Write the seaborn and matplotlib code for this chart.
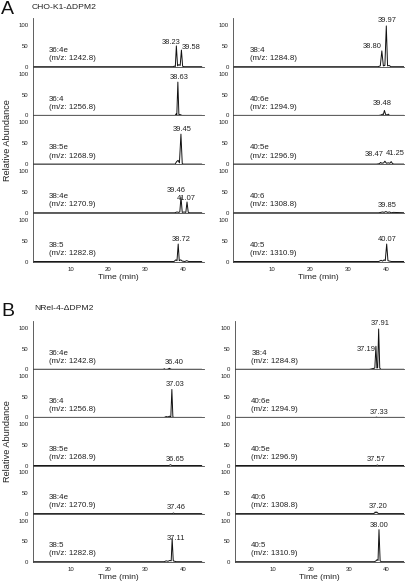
import matplotlib
matplotlib.use("Agg")
import matplotlib.pyplot as plt
from matplotlib.ticker import MultipleLocator, FixedLocator
import seaborn as sns
import pandas as pd

sns.set_style("white")
plt.rcParams['font.family'] = ['Liberation Sans', 'DejaVu Sans']

# ---------------- data ----------------
panel_titles = ["CHO-K1-\u0394DPM2", "NRel-4-\u0394DPM2"]
panel_letters = ["A", "B"]

names_left = ["36:4e", "36:4", "38:5e", "38:4e", "38:5"]
mz_left = ["1242.8", "1256.8", "1268.9", "1270.9", "1282.8"]
names_right = ["38:4", "40:6e", "40:5e", "40:6", "40:5"]
mz_right = ["1284.8", "1294.9", "1296.9", "1308.8", "1310.9"]

# Panel A, left column traces (time in min, relative abundance)
a_l1_t = [0, 37.4, 37.7, 37.95, 38.23, 38.55, 38.9, 39.25, 39.58, 39.9, 40.3, 45]
a_l1_y = [0, 0, 1.5, 0, 50, 2, 5, 3, 40, 1, 0, 0]
a_l2_t = [0, 37.9, 38.2, 38.35, 38.63, 38.9, 39.1, 39.4, 39.7, 45]
a_l2_y = [0, 0, 4, 1, 80, 2, 2, 1.5, 0, 0]
a_l3_t = [0, 37.9, 38.3, 38.7, 39.05, 39.45, 39.8, 40.1, 45]
a_l3_y = [0, 0, 6, 9, 3, 72, 1, 0, 0]
a_l4_t = [0, 37.8, 38.4, 38.8, 39.15, 39.46, 39.8, 40.3, 40.75, 41.07, 41.4, 41.8, 45]
a_l4_y = [0, 0, 2, 1, 2, 38, 1, 2, 1, 26, 1, 0, 0]
a_l5_t = [0, 37.6, 38.1, 38.4, 38.72, 39.0, 39.4, 39.8, 40.5, 41.0, 41.5, 45]
a_l5_y = [0, 0, 4, 2, 42, 2, 4, 1, 0, 2, 0, 0]

# Panel A, right column traces
a_r1_t = [0, 37.8, 38.4, 38.8, 39.2, 39.6, 39.97, 40.3, 40.7, 41.2, 45]
a_r1_y = [0, 0, 2, 38, 2, 3, 98, 2, 3, 0, 0]
a_r2_t = [0, 38.0, 38.6, 39.0, 39.2, 39.48, 39.8, 40.2, 40.5, 40.8, 45]
a_r2_y = [0, 0, 1, 3, 2, 12, 2, 1, 3, 0, 0]
a_r3_t = [0, 37.4, 38.2, 38.47, 38.8, 39.3, 39.6, 40.0, 40.5, 40.9, 41.25, 41.6, 42.0, 45]
a_r3_y = [0, 0, 1, 4, 2, 3, 7, 2, 3, 2, 6, 1, 0, 0]
a_r4_t = [0, 38.0, 38.5, 39.0, 39.4, 39.85, 40.3, 40.8, 41.3, 41.8, 45]
a_r4_y = [0, 0, 1, 2, 1, 3, 1, 2, 0, 1, 0]
a_r5_t = [0, 38.0, 38.6, 39.0, 39.4, 39.7, 40.07, 40.4, 40.8, 41.3, 45]
a_r5_y = [0, 0, 3, 1, 4, 2, 42, 2, 1, 0, 0]

# Panel B, left column traces
b_l1_t = [0, 34.8, 35.0, 35.2, 35.8, 36.1, 36.4, 36.7, 37.0, 45]
b_l1_y = [0, 0, 1.5, 0, 0, 1, 2.5, 0.5, 0, 0]
b_l2_t = [0, 35.0, 35.5, 36.0, 36.4, 36.75, 37.03, 37.3, 37.6, 45]
b_l2_y = [0, 0, 2, 1, 3, 1, 68, 1, 0, 0]
b_l3_t = [0, 36.3, 36.65, 37.0, 45]
b_l3_y = [0, 0, 2, 0, 0]
b_l4_t = [0, 37.2, 37.46, 37.7, 45]
b_l4_y = [0, 0, 1.5, 0, 0]
b_l5_t = [0, 35.0, 35.5, 36.0, 36.5, 36.85, 37.11, 37.4, 37.8, 38.2, 45]
b_l5_y = [0, 0, 2, 1, 3, 2, 56, 2, 1, 0, 0]

# Panel B, right column traces
b_r1_t = [0, 35.5, 36.0, 36.5, 36.9, 37.19, 37.45, 37.65, 37.91, 38.2, 38.5, 45]
b_r1_y = [0, 0, 1, 2, 3, 56, 3, 4, 98, 3, 0, 0]
b_r2_t = [0, 37.1, 37.33, 37.6, 45]
b_r2_y = [0, 0, 0.8, 0, 0]
b_r3_t = [0, 37.3, 37.57, 37.8, 45]
b_r3_y = [0, 0, 1.2, 0, 0]
b_r4_t = [0, 36.4, 36.8, 37.0, 37.2, 37.4, 37.7, 38.0, 45]
b_r4_y = [0, 0, 1, 4, 2, 4, 1, 0, 0]
b_r5_t = [0, 36.8, 37.2, 37.5, 37.75, 38.0, 38.3, 38.6, 45]
b_r5_y = [0, 0, 2, 5, 3, 78, 2, 0, 0]

# labelled retention times per trace
rt_a_left = [["38.23", "39.58"], ["38.63"], ["39.45"], ["39.46", "41.07"], ["38.72"]]
rt_a_right = [["38.80", "39.97"], ["39.48"], ["38.47", "41.25"], ["39.85"], ["40.07"]]
rt_b_left = [["36.40"], ["37.03"], ["36.65"], ["37.46"], ["37.11"]]
rt_b_right = [["37.19", "37.91"], ["37.33"], ["37.57"], ["37.20"], ["38.00"]]

traces = {
    (0, 0): [(a_l1_t, a_l1_y), (a_l2_t, a_l2_y), (a_l3_t, a_l3_y), (a_l4_t, a_l4_y), (a_l5_t, a_l5_y)],
    (0, 1): [(a_r1_t, a_r1_y), (a_r2_t, a_r2_y), (a_r3_t, a_r3_y), (a_r4_t, a_r4_y), (a_r5_t, a_r5_y)],
    (1, 0): [(b_l1_t, b_l1_y), (b_l2_t, b_l2_y), (b_l3_t, b_l3_y), (b_l4_t, b_l4_y), (b_l5_t, b_l5_y)],
    (1, 1): [(b_r1_t, b_r1_y), (b_r2_t, b_r2_y), (b_r3_t, b_r3_y), (b_r4_t, b_r4_y), (b_r5_t, b_r5_y)],
}
rts = {(0, 0): rt_a_left, (0, 1): rt_a_right, (1, 0): rt_b_left, (1, 1): rt_b_right}

# ---------------- layout (pixels) ----------------
W, H = 410, 588
fig = plt.figure(figsize=(W / 100, H / 100), dpi=100)

col_x = {(0, 0): (33, 204, 45.6), (0, 1): (233.5, 404, 44.6),
         (1, 0): (33, 204, 45.6), (1, 1): (235, 404, 44.6)}
zeros = {0: [66.7, 115.4, 164.1, 212.8, 261.5], 1: [369.3, 417.4, 465.5, 513.6, 561.7]}
row_h = {0: 48.7, 1: 48.1}
ytop = 117

# label positions (data coords) for retention-time labels
rt_pos = {
    (0, 0): [[(36.8, 57), (42.3, 45)], [(39.0, 90)], [(39.9, 83)], [(38.1, 53), (41.0, 34)], [(39.4, 54)]],
    (0, 1): [[(36.2, 48), (40.1, 111)], [(38.9, 29)], [(36.8, 22), (42.4, 26)], [(40.1, 17)], [(40.2, 54)]],
    (1, 0): [[(37.7, 16)], [(37.9, 79)], [(38.0, 15)], [(38.3, 15)], [(38.2, 57)]],
    (1, 1): [[(34.7, 49), (38.2, 111)], [(37.9, 11)], [(37.3, 15)], [(37.7, 18)], [(37.9, 88)]],
}

line_col = "#111111"
text_col = "#222222"
spine_col = "#444444"

for (p, c), tr in traces.items():
    x0, x1, xmax = col_x[(p, c)]
    names = names_left if c == 0 else names_right
    mzs = mz_left if c == 0 else mz_right
    for r in range(5):
        zb = zeros[p][r]
        h = row_h[p]
        ax = fig.add_axes([x0 / W, 1 - zb / H, (x1 - x0) / W, h / H])
        t, y = tr[r]
        df = pd.DataFrame({"t": t, "y": y})
        sns.lineplot(data=df, x="t", y="y", ax=ax, color=line_col, linewidth=0.7,
                     estimator=None, sort=False)
        ax.set_xlim(0, xmax)
        ax.set_ylim(0, ytop)
        ax.set_xlabel("")
        ax.set_ylabel("")
        for s in ["top", "right"]:
            ax.spines[s].set_visible(False)
        for s in ["left", "bottom"]:
            ax.spines[s].set_color(spine_col)
            ax.spines[s].set_linewidth(0.6)
        ax.patch.set_alpha(0)
        ax.yaxis.set_major_locator(FixedLocator([0, 50, 100]))
        ax.yaxis.set_minor_locator(MultipleLocator(10))
        ax.tick_params(axis="y", which="major", direction="out", length=2.2, width=0.5,
                       colors=spine_col, labelsize=4.3, pad=1.2, labelcolor=text_col)
        ax.tick_params(axis="y", which="minor", direction="in", length=1.4, width=0.4,
                       colors=spine_col)
        if r == 4:
            ax.xaxis.set_major_locator(FixedLocator([10, 20, 30, 40]))
            ax.xaxis.set_minor_locator(MultipleLocator(2))
            ax.tick_params(axis="x", which="major", direction="out", length=2.2, width=0.5,
                           colors=spine_col, labelsize=4.3, pad=1.5, labelcolor=text_col)
            ax.tick_params(axis="x", which="minor", direction="in", length=1.4, width=0.4,
                           colors=spine_col)
            ax.set_xlabel("Time (min)", fontsize=6.1, color=text_col, labelpad=1.5)
        else:
            ax.set_xticks([])
            ax.xaxis.set_minor_locator(FixedLocator([]))
        ax.text(4.3, 39, names[r], fontsize=5.7, color=text_col, va="center", ha="left")
        ax.text(4.3, 19, "(m/z: " + mzs[r] + ")", fontsize=5.7, color=text_col,
                va="center", ha="left")
        for lab, (lx, ly) in zip(rts[(p, c)][r], rt_pos[(p, c)][r]):
            ax.text(lx, ly, lab, fontsize=5.4, color=text_col, va="center", ha="center",
                    clip_on=False)

# panel letters and titles
fig.text(1 / W, 1 - 9.5 / H, panel_letters[0], fontsize=14, color="#111", va="center", ha="left")
fig.text(31.5 / W, 1 - 7.5 / H, panel_titles[0], fontsize=6.1, color=text_col, va="center", ha="left")
fig.text(1 / W, 1 - 311.5 / H, panel_letters[1], fontsize=14, color="#111", va="center", ha="left")
fig.text(34.5 / W, 1 - 309 / H, panel_titles[1], fontsize=6.1, color=text_col, va="center", ha="left")

fig.text(8 / W, 1 - 140 / H, "Relative Abundance", fontsize=6.6, rotation=90,
         color=text_col, va="center", ha="center")
fig.text(8 / W, 1 - 441 / H, "Relative Abundance", fontsize=6.6, rotation=90,
         color=text_col, va="center", ha="center")

fig.savefig("out.png", dpi=100, facecolor="white")
